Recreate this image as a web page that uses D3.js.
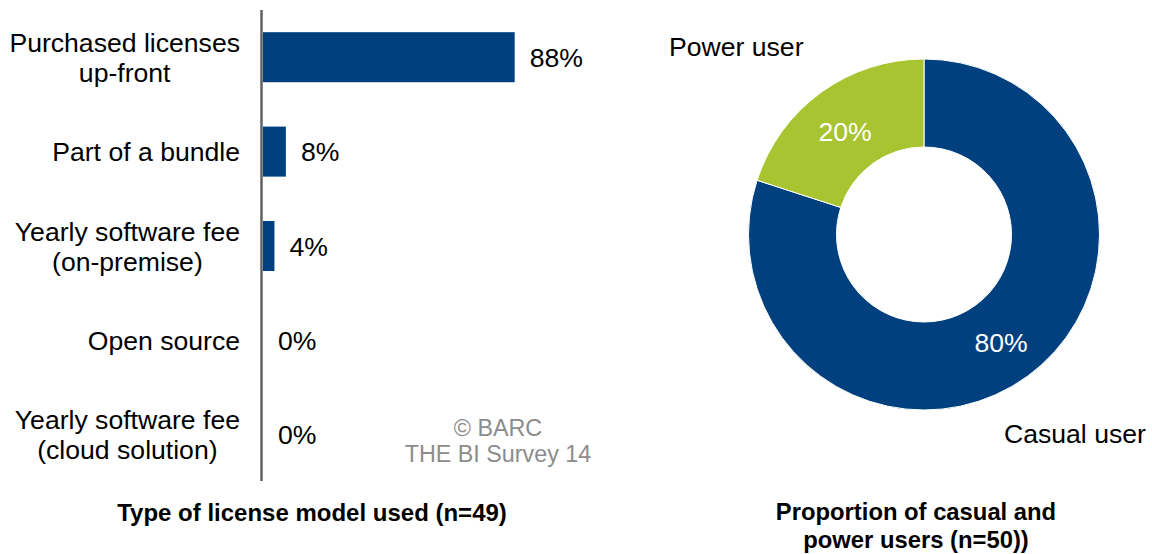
<!DOCTYPE html>
<html><head><meta charset="utf-8">
<script src="https://cdn.jsdelivr.net/npm/d3@7"></script>
<style>body{margin:0;background:#fff}svg{display:block;font-family:Arial,"Liberation Sans",sans-serif}</style>
</head><body><svg id="c" width="1152" height="554"></svg>
<script>
const categories = [["Purchased licenses","up-front"],["Part of a bundle"],["Yearly software fee","(on-premise)"],["Open source"],["Yearly software fee","(cloud solution)"]];
const barValues = [88, 8, 4, 0, 0];
const pieLabels = ["Casual user", "Power user"];
const pieValues = [80, 20];
const barTitle = "Type of license model used (n=49)";
const pieTitle = ["Proportion of casual and", "power users (n=50))"];
const watermark = ["© BARC", "THE BI Survey 14"];

const navy = "#00407f", green = "#a8c430";
const FS = 26.6;
const svg = d3.select("#c");

// Bar chart
const x = d3.scaleLinear().domain([0, 100]).range([263, 549]);
const y = d3.scaleBand().domain(d3.range(categories.length)).range([10, 482]).paddingInner(0.47).paddingOuter(0.235);

svg.selectAll("rect.bar").data(barValues).join("rect").attr("class","bar")
  .attr("x", x(0)).attr("y", (d,i)=>y(i)).attr("width", d=>x(d)-x(0)).attr("height", y.bandwidth()).attr("fill", navy);

svg.append("line").attr("x1",261.5).attr("x2",261.5).attr("y1",10).attr("y2",481).attr("stroke","#606060").attr("stroke-width",2.5);

svg.selectAll("text.val").data(barValues).join("text").attr("class","val")
  .attr("x", d=>x(d)+15).attr("y",(d,i)=>y(i)+y.bandwidth()/2).attr("dy","0.36em")
  .attr("font-size",FS).attr("fill","#000").text(d=>d+"%");

const right = 240;
categories.forEach((lines,i)=>{
  const cy = y(i)+y.bandwidth()/2;
  const t = svg.append("text").attr("text-anchor","middle").attr("font-size",FS).attr("fill","#000");
  const spans = lines.map((l,j)=> t.append("tspan").attr("y", cy + (j-(lines.length-1)/2)*30).attr("dy","0.36em").text(l));
  const w = d3.max(spans, s=>s.node().getComputedTextLength());
  spans.forEach(s=>s.attr("x", right - w/2));
});

const wm = svg.append("text").attr("text-anchor","middle").attr("font-size",23.3).attr("fill","#8c8c8c");
watermark.forEach((l,j)=>wm.append("tspan").attr("x",498).attr("y",436+j*26).text(l));

svg.append("text").attr("x",312).attr("y",521).attr("text-anchor","middle").attr("font-size",24).attr("font-weight","bold").text(barTitle);

// Donut
const cx = 924, cyc = 234.5, R = 175.5, r = 87.5;
const pie = d3.pie().sort(null).value(d=>d)(pieValues);
const arc = d3.arc().innerRadius(r).outerRadius(R);
const g = svg.append("g").attr("transform",`translate(${cx},${cyc})`);
g.selectAll("path").data(pie).join("path").attr("d",arc).attr("fill",(d,i)=>i===0?navy:green).attr("stroke","#fff").attr("stroke-width",1);
const pctPos = [[77,108],[-79,-103]];
g.selectAll("text.pct").data(pie).join("text").attr("class","pct")
  .attr("x",(d,i)=>pctPos[i][0]).attr("y",(d,i)=>pctPos[i][1]).attr("dy","0.36em")
  .attr("text-anchor","middle").attr("font-size",FS).attr("fill","#fff").text(d=>d.data+"%");

svg.append("text").attr("x",1004).attr("y",443).attr("font-size",FS).text(pieLabels[0]);
svg.append("text").attr("x",669).attr("y",56).attr("font-size",FS).text(pieLabels[1]);

const pt = svg.append("text").attr("text-anchor","middle").attr("font-size",23.8).attr("font-weight","bold");
pieTitle.forEach((l,j)=>pt.append("tspan").attr("x",916).attr("y",520+j*28).text(l));
</script></body></html>
